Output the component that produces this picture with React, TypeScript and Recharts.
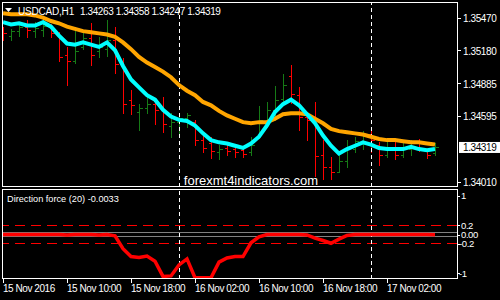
import React from 'react';
import { ComposedChart, Line, Bar, XAxis, YAxis, ReferenceLine } from 'recharts';

const FONT = "'Liberation Sans', Arial, sans-serif";
const RED = '#ff0000';
const GREEN = '#167a16';

const opens = [1.3536,1.3531,1.3535,1.3539,1.3535,1.3536,1.3539,1.3533,1.3514,1.3508,
1.3521,1.3529,1.3517,1.3519,1.3527,1.3507,1.3474,1.3463,1.3467,1.3470,
1.3467,1.3451,1.3454,1.3458,1.3454,1.3438,1.3435,1.3427,1.3431,1.3430,
1.3429,1.3427,1.3441,1.3454,1.3465,1.3475,1.3495,1.3478,1.3459,1.3459,
1.3425,1.3414,1.3410,1.3419,1.3430,1.3436,1.3443,1.3434,1.3425,1.3431,
1.3425,1.3430,1.3437,1.3429,1.34263];
const highs = [1.3539,1.3537,1.3543,1.3545,1.3543,1.3545,1.3541,1.3534,1.3521,1.3536,
1.3534,1.3542,1.3530,1.3545,1.3539,1.3511,1.3483,1.3470,1.3477,1.3474,
1.3476,1.3462,1.3462,1.3462,1.3456,1.3445,1.3441,1.3434,1.3434,1.3432,
1.3431,1.3441,1.3468,1.3472,1.3486,1.3497,1.3505,1.3485,1.3461,1.3472,
1.3438,1.3423,1.3427,1.3438,1.3441,1.3446,1.3446,1.3436,1.3437,1.3436,
1.3436,1.3438,1.3439,1.3430,1.34358];
const lows = [1.3527,1.3527,1.3531,1.3530,1.3530,1.3531,1.3530,1.3508,1.3487,1.3507,
1.3519,1.3505,1.3512,1.3513,1.3498,1.3462,1.3461,1.3447,1.3462,1.3452,
1.3445,1.3441,1.3443,1.3450,1.3434,1.3427,1.3422,1.3421,1.3425,1.3423,
1.3423,1.3425,1.3440,1.3450,1.3456,1.3471,1.3471,1.3447,1.3438,1.3406,
1.3403,1.3403,1.3410,1.3414,1.3427,1.3430,1.3427,1.3416,1.3423,1.3421,
1.3423,1.3425,1.3428,1.3422,1.34247];
const closes = [1.3533,1.3535,1.3539,1.3536,1.3538,1.3540,1.3533,1.3512,1.3508,1.3517,
1.3529,1.3514,1.3521,1.3527,1.3506,1.3470,1.3469,1.3467,1.3470,1.3465,
1.3452,1.3454,1.3458,1.3460,1.3438,1.3431,1.3428,1.3430,1.3428,1.3427,
1.3426,1.3434,1.3456,1.3465,1.3474,1.3487,1.3479,1.3459,1.3456,1.3424,
1.3414,1.3410,1.3419,1.3431,1.3437,1.3443,1.3438,1.3425,1.3431,1.3425,
1.3430,1.3436,1.3430,1.3425,1.34319];
const fastMA = [1.3543,1.3541,1.3542,1.3540,1.3540,1.3543,1.3539,1.3531,1.3524,1.3523,
1.3525,1.3523,1.3521,1.3525,1.3518,1.3504,1.3492,1.3485,1.3478,1.3474,
1.3465,1.3459,1.3456,1.3455,1.3451,1.3444,1.3438,1.3436,1.3435,1.3433,
1.3431,1.3435,1.3441,1.3451,1.3463,1.3470,1.3474,1.3469,1.3461,1.3453,
1.3442,1.3433,1.3426,1.3430,1.3433,1.3436,1.3434,1.3431,1.3430,1.3430,
1.3430,1.3432,1.3430,1.3429,1.3430];
const slowMA = [1.3551,1.3550,1.3550,1.3550,1.3549,1.3547,1.3544,1.3542,1.3539,1.3537,
1.3535,1.3534,1.3533,1.3532,1.3530,1.3525,1.3519,1.3512,1.3507,1.3503,
1.3499,1.3494,1.3487,1.3482,1.3478,1.3472,1.3469,1.3464,1.3460,1.3457,
1.3454,1.3453,1.3454,1.3454,1.3457,1.3461,1.3462,1.3462,1.3461,1.3457,
1.3453,1.3448,1.3446,1.3445,1.3444,1.3443,1.3441,1.3439,1.3438,1.3438,
1.3437,1.3436,1.3436,1.3435,1.3434];
const dirForce = [0,0,0,0,0,0,0,0,-0.01,0,
0,0,-0.01,0,-0.03,-0.31,-0.48,-0.5,-0.47,-0.58,
-0.91,-0.9,-0.66,-0.53,-0.94,-0.94,-0.94,-0.6,-0.51,-0.48,
-0.48,-0.18,-0.05,0,0,0,0,0,-0.01,-0.08,
-0.13,-0.19,-0.1,-0.02,0,0,0,0,0,0,
0,0,0,0,-0.0033];

const priceTicks = [1.3547, 1.3518, 1.34885, 1.34595, 1.34319, 1.3401];
const lastPrice = 1.34319;
const forceTickValues = [0.84, 0.2, 0, -0.2, -0.84];
const forceTickLabels = ['1', '0.2', '0.00', '-0.2', '-1'];
const forceLevels = [0.2, -0.2];
const zeroBand = [0.045, -0.045];
const timeTickIndex = [0, 8, 16, 24, 32, 40, 48];
const timeTickLabels = ['15 Nov 2016', '15 Nov 10:00', '15 Nov 18:00', '16 Nov 02:00', '16 Nov 10:00', '16 Nov 18:00', '17 Nov 02:00'];
const daySeparators = [22, 46];

const data = opens.map((o, i) => ({
  i,
  o,
  h: highs[i],
  l: lows[i],
  c: closes[i],
  range: [lows[i], highs[i]],
  fast: fastMA[i],
  slow: slowMA[i],
  force: dirForce[i],
}));

const txt = { fontFamily: FONT, fontSize: 10, letterSpacing: -0.4 } as const;

const Candle = (props: any) => {
  const { x, y, width, height } = props;
  const p = props.payload || props;
  if (x == null || y == null) return null;
  const cx = Math.round(x + width / 2) + 0.5;
  const top = Math.min(y, y + height);
  const bot = Math.max(y, y + height);
  const span = p.h - p.l || 1;
  const yo = Math.round(top + ((p.h - p.o) / span) * (bot - top)) + 0.5;
  const yc = Math.round(top + ((p.h - p.c) / span) * (bot - top)) + 0.5;
  const col = p.c >= p.o ? GREEN : RED;
  return (
    <g shapeRendering="crispEdges">
      <line x1={cx} x2={cx} y1={Math.round(top)} y2={Math.round(bot) + 1} stroke={col} strokeWidth={1} />
      <line x1={cx - 3} x2={cx} y1={yo} y2={yo} stroke={col} strokeWidth={1} />
      <line x1={cx} x2={cx + 3} y1={yc} y2={yc} stroke={col} strokeWidth={1} />
    </g>
  );
};

const PriceTick = (props: any) => {
  const { x, y, payload } = props;
  const v = payload.value;
  const label = Number(v).toFixed(5);
  if (v === lastPrice) {
    return (
      <g>
        <rect x={x + 2} y={y - 5} width={43} height={11} fill="#ffffff" />
        <text x={x + 6} y={y + 4} fill="#000" style={txt}>{label}</text>
      </g>
    );
  }
  const yy = Math.round(y) + 0.5;
  return (
    <g>
      <line x1={x} x2={x + 4} y1={yy} y2={yy} stroke="#fff" shapeRendering="crispEdges" />
      <text x={x + 6} y={y + 4.5} fill="#fff" style={txt}>{label}</text>
    </g>
  );
};

const ForceTick = (props: any) => {
  const { x, y, payload } = props;
  const idx = forceTickValues.indexOf(payload.value);
  const label = forceTickLabels[idx] ?? '';
  const yy = Math.round(y) + 0.5;
  return (
    <g>
      <line x1={x} x2={x + 3} y1={yy} y2={yy} stroke="#fff" shapeRendering="crispEdges" />
      <text x={label.startsWith('-') ? x + 2 : x + 4} y={y + 3.5} fill="#fff" style={{ ...txt, fontSize: 9.5 }}>{label}</text>
    </g>
  );
};

const TimeTick = (props: any) => {
  const { x, y, payload } = props;
  const idx = timeTickIndex.indexOf(payload.value);
  const xx = Math.round(x) + 0.5;
  return (
    <g>
      <line x1={xx} x2={xx} y1={y} y2={y + 4} stroke="#fff" shapeRendering="crispEdges" />
      <text x={x} y={y + 13} fill="#fff" style={{ ...txt, letterSpacing: -0.45 }}>{timeTickLabels[idx]}</text>
    </g>
  );
};

const xDomain: [number, number] = [-0.125, 56.75];

export default function App() {
  return (
    <div style={{ position: 'absolute', left: 0, top: 0, width: 500, height: 300, background: '#000', overflow: 'hidden' }}>
      <div style={{ position: 'absolute', left: 0, top: 0 }}>
        <ComposedChart width={500} height={190} data={data} margin={{ top: 2.5, right: 0, bottom: 3.5, left: 2 }}>
          <XAxis dataKey="i" type="number" domain={xDomain} allowDataOverflow hide />
          <YAxis
            orientation="right"
            width={43}
            type="number"
            domain={[1.33967, 1.35605]}
            allowDataOverflow
            ticks={priceTicks}
            interval={0}
            tickSize={0}
            tickMargin={0}
            axisLine={false}
            tickLine={false}
            tick={(p: any) => <PriceTick {...p} />}
          />
          {daySeparators.map((d) => (
            <ReferenceLine key={d} x={d} stroke="#fff" strokeDasharray="4 3" strokeWidth={1} shapeRendering="crispEdges" />
          ))}
          <Bar dataKey="range" barSize={5} shape={(p: any) => <Candle {...p} />} isAnimationActive={false} />
          <Line dataKey="slow" type="linear" stroke="#ffa500" strokeWidth={4} dot={false} activeDot={false} isAnimationActive={false} />
          <Line dataKey="fast" type="linear" stroke="#00ffff" strokeWidth={4} dot={false} activeDot={false} isAnimationActive={false} />
        </ComposedChart>
      </div>
      <div style={{ position: 'absolute', left: 0, top: 186 }}>
        <ComposedChart width={500} height={114} data={data} margin={{ top: 3, right: 0, bottom: 0, left: 2 }}>
          <XAxis
            dataKey="i"
            type="number"
            domain={xDomain}
            allowDataOverflow
            ticks={timeTickIndex}
            interval={0}
            height={21}
            tickSize={0}
            tickMargin={0}
            axisLine={false}
            tickLine={false}
            tick={(p: any) => <TimeTick {...p} />}
          />
          <YAxis
            orientation="right"
            width={43}
            type="number"
            domain={[-0.967, 0.989]}
            allowDataOverflow
            ticks={forceTickValues}
            interval={0}
            tickSize={0}
            tickMargin={0}
            axisLine={false}
            tickLine={false}
            tick={(p: any) => <ForceTick {...p} />}
          />
          {zeroBand.map((v) => (
            <ReferenceLine key={'z' + v} y={v} stroke="#808080" strokeWidth={1} shapeRendering="crispEdges" />
          ))}
          {forceLevels.map((v) => (
            <ReferenceLine key={'l' + v} y={v} stroke={RED} strokeDasharray="10 6" strokeWidth={1} shapeRendering="crispEdges" />
          ))}
          {daySeparators.map((d) => (
            <ReferenceLine key={d} x={d} stroke="#fff" strokeDasharray="4 3" strokeWidth={1} shapeRendering="crispEdges" />
          ))}
          <Line dataKey="force" type="linear" stroke={RED} strokeWidth={3.5} dot={false} activeDot={false} isAnimationActive={false} />
        </ComposedChart>
      </div>
      <div style={{ position: 'absolute', left: 2, top: 2, width: 456, height: 185, border: '1px solid #fff', boxSizing: 'border-box', pointerEvents: 'none' }} />
      <div style={{ position: 'absolute', left: 2, top: 189, width: 456, height: 90, border: '1px solid #fff', boxSizing: 'border-box', pointerEvents: 'none' }} />
      <svg width={500} height={300} style={{ position: 'absolute', left: 0, top: 0, pointerEvents: 'none' }}>
        <polygon points="5,8 12,8 8.5,12" fill="#fff" />
        <text x={18} y={14.5} fill="#fff" style={{ ...txt, letterSpacing: -0.2 }}>USDCAD,H1</text>
        <text x={80} y={14.5} fill="#fff" style={txt}>1.34263 1.34358 1.34247 1.34319</text>
        <text x={251} y={185} fill="#fff" fontSize={13} fontFamily={FONT} textAnchor="middle">forexmt4indicators.com</text>
        <text x={7} y={201.5} fill="#fff" fontSize={9.2} fontFamily={FONT}>Direction force (20) -0.0033</text>
      </svg>
    </div>
  );
}
